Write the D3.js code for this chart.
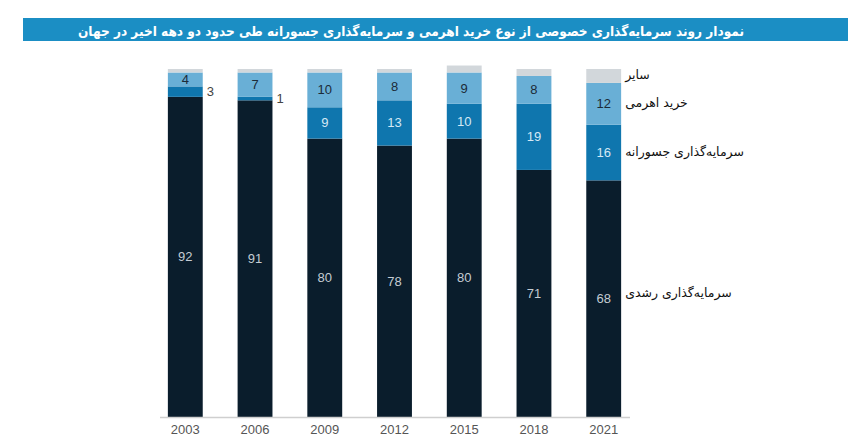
<!DOCTYPE html>
<html>
<head>
<meta charset="utf-8">
<script src="https://cdn.jsdelivr.net/npm/d3@7"></script>
<style>
  body { margin: 0; background: #fff; }
  svg { display: block; }
</style>
</head>
<body>
<div id="chart"></div>
<script>
// Data (percent of deals)
var years = ["2003", "2006", "2009", "2012", "2015", "2018", "2021"];
var growth = [92, 91, 80, 78, 80, 71, 68];
var venture = [3, 1, 9, 13, 10, 19, 16];
var buyout = [4, 7, 10, 8, 9, 8, 12];
var other = [1, 1, 1, 1, 2, 2, 4];

var seriesNames = ["سرمایه‌گذاری رشدی", "سرمایه‌گذاری جسورانه", "خرید اهرمی", "سایر"];
var titleText = "نمودار روند سرمایه‌گذاری خصوصی از نوع خرید اهرمی و سرمایه‌گذاری جسورانه طی حدود دو دهه اخیر در جهان";

var width = 863, height = 445;
var baseline = 417;

var svg = d3.select("#chart").append("svg")
  .attr("width", width)
  .attr("height", height);

// Title band
svg.append("rect")
  .attr("x", 23).attr("y", 18)
  .attr("width", 825).attr("height", 23)
  .attr("fill", "#1b8ec4");
var title = svg.append("text")
  .attr("x", 411).attr("y", 35.5)
  .attr("text-anchor", "middle")
  .attr("fill", "#fff")
  .style("font-family", "DejaVu Sans Condensed, DejaVu Sans")
  .style("font-weight", "bold")
  .style("font-size", "16px")
  .text(titleText);
// shrink the font until the title fits the reference width
var fs = 16;
while (title.node().getComputedTextLength() > 668 && fs > 10) {
  fs -= 0.25;
  title.style("font-size", fs + "px");
}

// Build rows for the stack
var keys = ["growth", "venture", "buyout", "other"];
var rows = years.map(function(y, i) {
  return { year: y, growth: growth[i], venture: venture[i], buyout: buyout[i], other: other[i] };
});
var stacked = d3.stack().keys(keys)(rows);

var x = d3.scaleBand()
  .domain(years)
  .range([133, 656])
  .padding(0.5);

var y = d3.scaleLinear()
  .domain([0, 100])
  .range([baseline, baseline - 348]);

var colors = { growth: "#0a1d2c", venture: "#0f76ae", buyout: "#69afd6", other: "#d2d7db" };
var labelColors = { growth: "#c4ccd3", venture: "#d5e9f5", buyout: "#1c2b38" };

// Bars
var layers = svg.selectAll("g.layer")
  .data(stacked)
  .enter().append("g")
  .attr("class", "layer")
  .attr("fill", function(d) { return colors[d.key]; });

layers.selectAll("rect")
  .data(function(d) { return d; })
  .enter().append("rect")
  .attr("x", function(d) { return x(d.data.year); })
  .attr("y", function(d) { return y(d[1]); })
  .attr("width", x.bandwidth())
  .attr("height", function(d) { return y(d[0]) - y(d[1]); });

// Value labels
stacked.forEach(function(layer) {
  if (layer.key === "other") return;
  layer.forEach(function(d) {
    var v = d[1] - d[0];
    var inside = v >= 4;
    svg.append("text")
      .attr("x", inside ? x(d.data.year) + x.bandwidth() / 2 : x(d.data.year) + x.bandwidth() + 4)
      .attr("y", (y(d[0]) + y(d[1])) / 2)
      .attr("dy", "0.35em")
      .attr("text-anchor", inside ? "middle" : "start")
      .attr("fill", inside ? labelColors[layer.key] : "#444")
      .style("font-family", "Liberation Sans, Arial, sans-serif")
      .style("font-size", "13px")
      .text(v);
  });
});

// Baseline axis
var xAxis = d3.axisBottom(x).tickSize(0).tickPadding(8);
var axisG = svg.append("g")
  .attr("transform", "translate(0," + baseline + ")")
  .call(xAxis);
axisG.select(".domain").remove();
axisG.selectAll("text")
  .attr("fill", "#555")
  .style("font-family", "Liberation Sans, Arial, sans-serif")
  .style("font-size", "13px");
svg.append("line")
  .attr("x1", 160).attr("x2", 630)
  .attr("y1", baseline + 0.5).attr("y2", baseline + 0.5)
  .attr("stroke", "#cfcfcf")
  .attr("stroke-width", 1.5);

// Series labels next to the last bar
var lastIdx = years.length - 1;
stacked.forEach(function(layer, i) {
  var d = layer[lastIdx];
  var cy = (y(d[0]) + y(d[1])) / 2;
  if (layer.key === "growth") cy -= 5;
  svg.append("text")
    .attr("x", x(years[lastIdx]) + x.bandwidth() + 4)
    .attr("y", cy - 1)
    .attr("dy", "0.35em")
    .attr("text-anchor", "start")
    .attr("fill", "#111")
    .style("font-family", "DejaVu Sans")
    .style("font-size", "12.5px")
    .text(seriesNames[i]);
});
</script>
</body>
</html>
